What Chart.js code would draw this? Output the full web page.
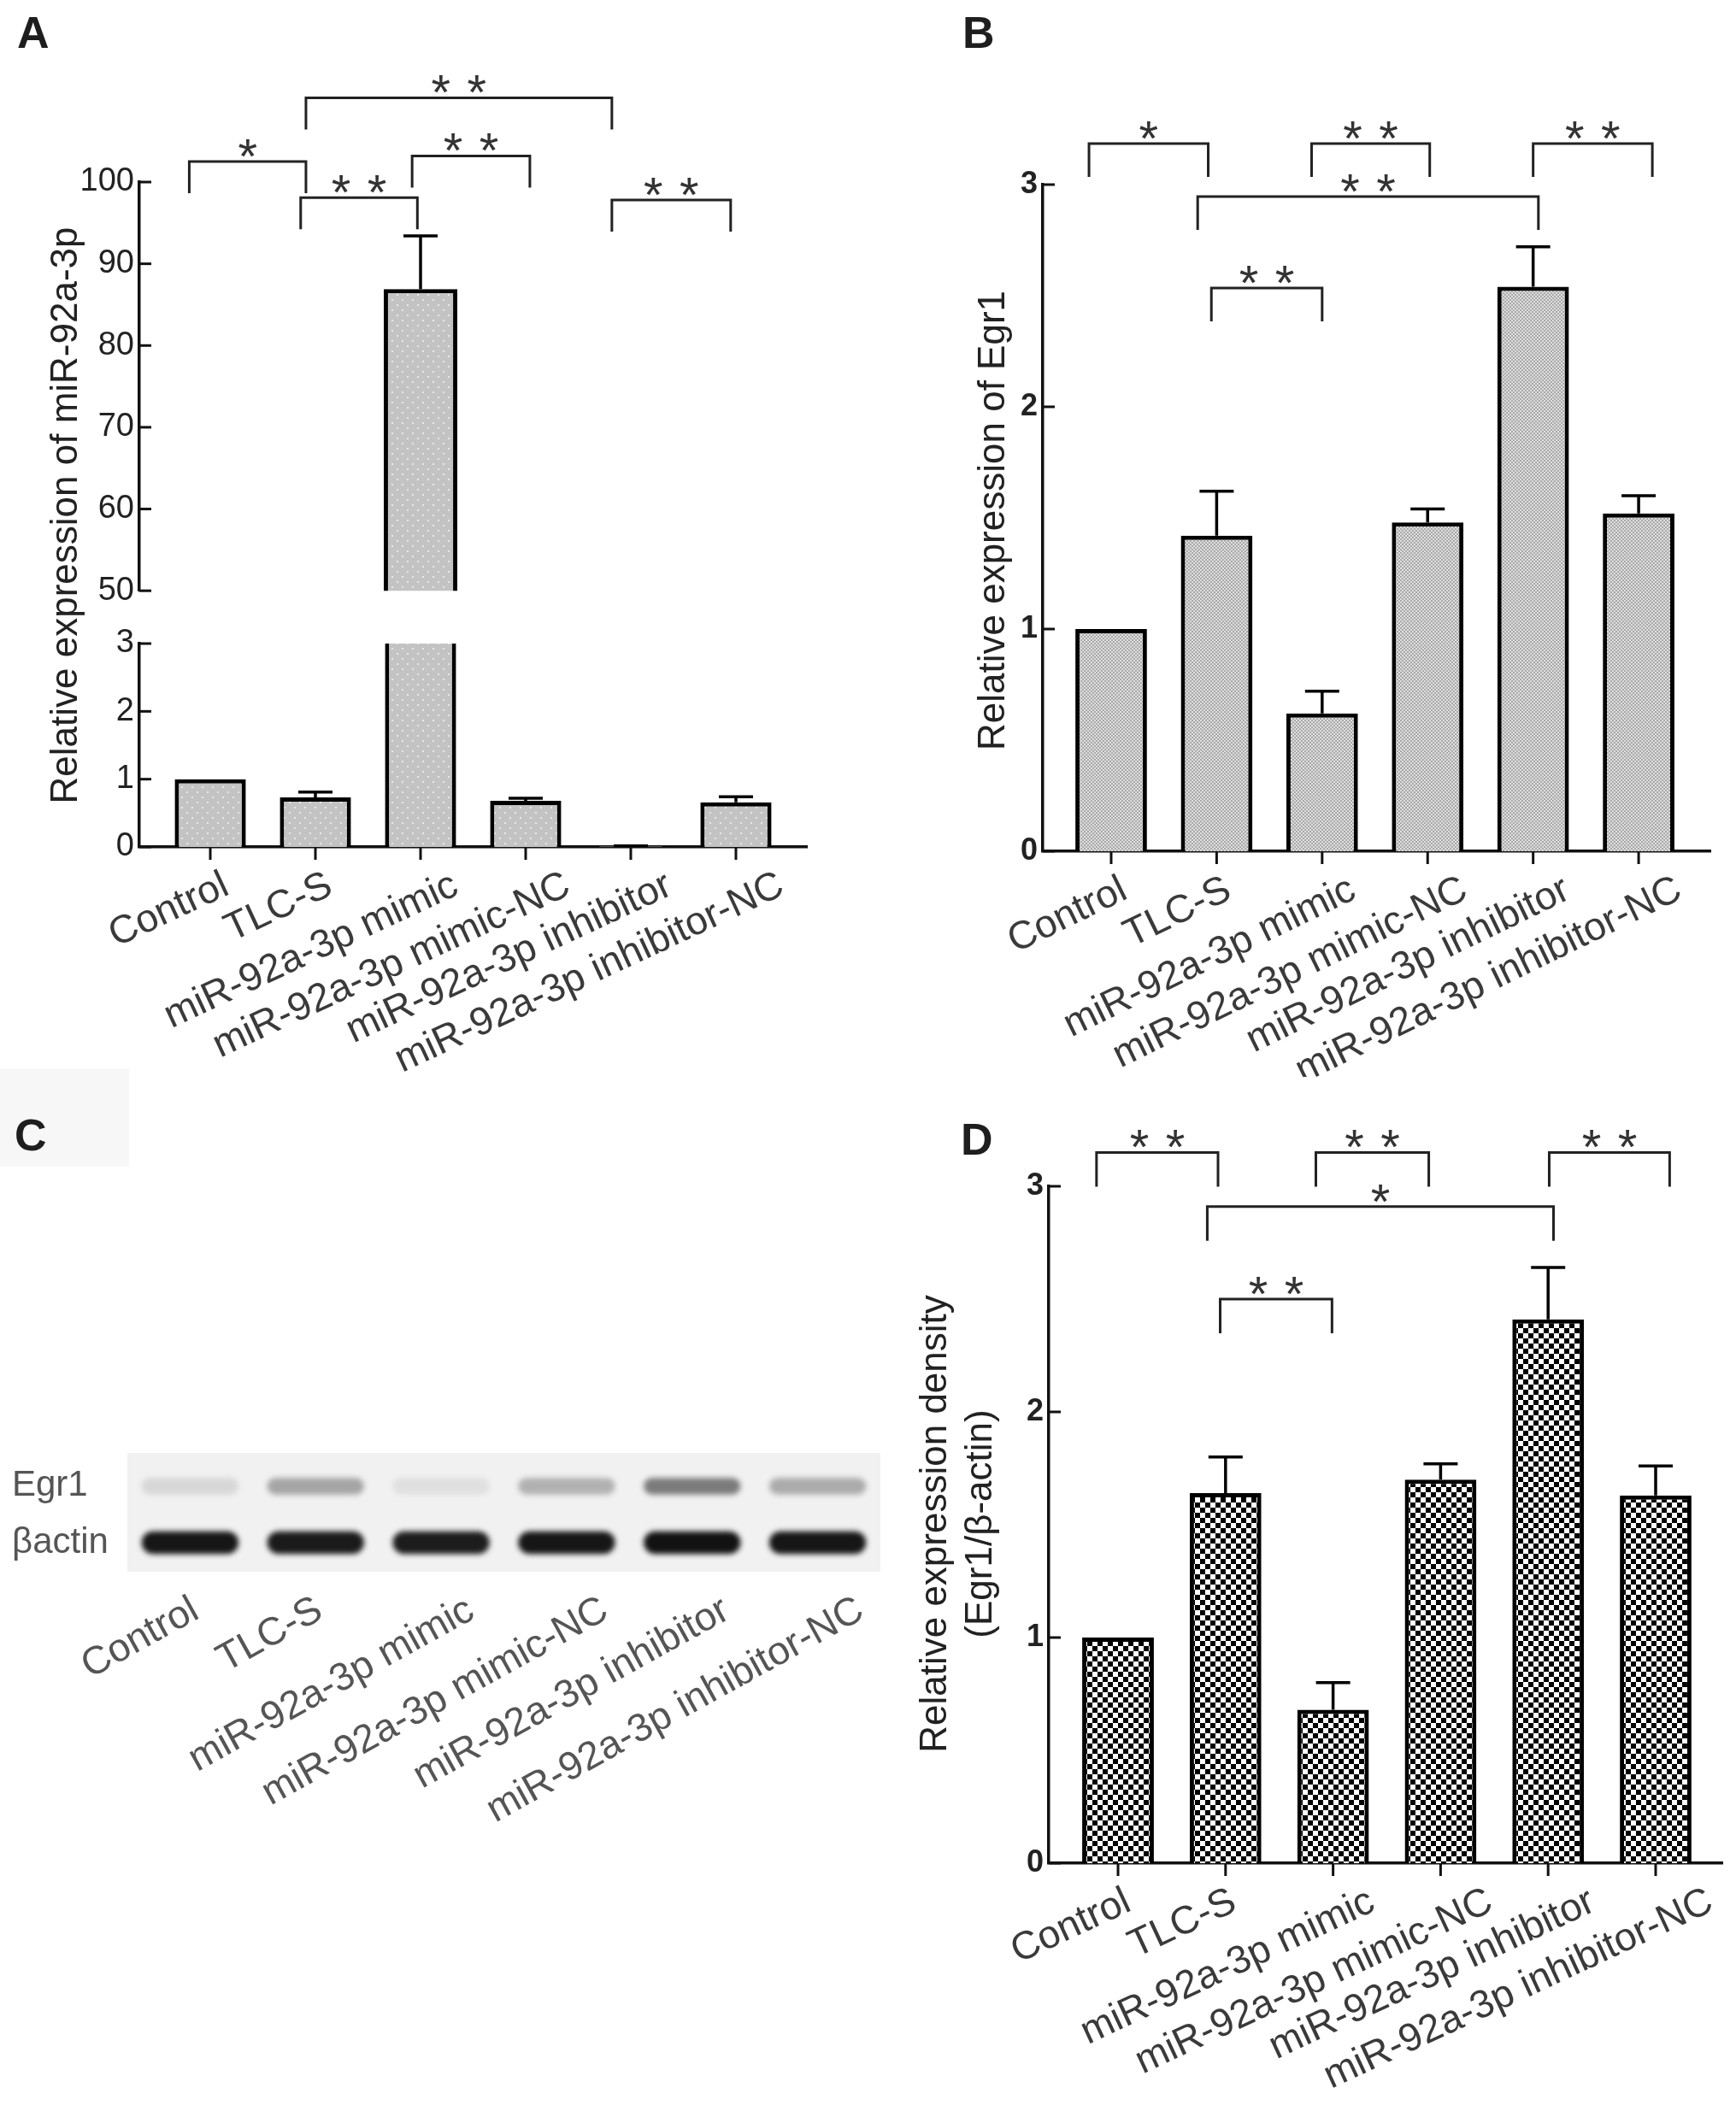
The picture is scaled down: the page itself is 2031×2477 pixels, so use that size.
<!DOCTYPE html>
<html lang="en">
<head>
  <meta charset="UTF-8">
  <title>miR-92a-3p / Egr1 expression</title>
  <script src="https://cdn.jsdelivr.net/npm/chart.js@4.4.1/dist/chart.umd.min.js"></script>
  <style>
    body {
      margin: 0;
      width: 2031px;
      height: 2477px;
      position: relative;
      overflow: hidden;
      background: #ffffff;
      font-family: 'Liberation Sans', Arial, sans-serif;
    }
    .box { position: absolute; }
    .letter {
      position: absolute;
      font: bold 52px 'Liberation Sans', Arial, sans-serif;
      line-height: 52px;
      color: #1e1e1e;
    }
    .shade {
      position: absolute;
      left: 0; top: 1250px;
      width: 151px; height: 115px;
      background: #f7f7f7;
    }
  </style>
</head>
<body>
  <div class="shade"></div>
  <div class="letter" style="left:20px;top:12px">A</div>
  <div class="letter" style="left:1126px;top:12px">B</div>
  <div class="letter" style="left:17px;top:1302px">C</div>
  <div class="letter" style="left:1124px;top:1307px">D</div>

  <div class="box" style="left:0;top:0;width:1015px;height:1260px"><canvas id="mirLow"></canvas></div>
  <div class="box" style="left:0;top:0;width:1015px;height:720px;z-index:2"><canvas id="mirHigh"></canvas></div>
  <div class="box" style="left:1100px;top:100px;width:931px;height:1160px"><canvas id="egr"></canvas></div>
  <div class="box" style="left:0;top:1650px;width:1050px;height:560px"><canvas id="blot"></canvas></div>
  <div class="box" style="left:1050px;top:1290px;width:981px;height:1187px"><canvas id="dens"></canvas></div>

  <script>
    const categories = ['Control', 'TLC-S', 'miR-92a-3p mimic', 'miR-92a-3p mimic-NC',
      'miR-92a-3p inhibitor', 'miR-92a-3p inhibitor-NC'];

    // A - relative expression of miR-92a-3p (broken axis)
    const mirMean = [1.0, 0.73, 86.9, 0.68, 0.01, 0.66];
    const mirSd = [0, 0.08, 6.5, 0.04, 0.005, 0.08];
    const mirTicksLow = [0, 1, 2, 3];
    const mirTicksHigh = [50, 60, 70, 80, 90, 100];

    // B - relative expression of Egr1
    const egrMean = [1.0, 1.42, 0.62, 1.48, 2.54, 1.52];
    const egrSd = [0, 0.2, 0.1, 0.06, 0.18, 0.08];

    // C - western blot band intensity (0 = none, 1 = black)
    const blotEgr1 = [0.12, 0.36, 0.08, 0.30, 0.56, 0.33];
    const blotActin = [0.95, 0.93, 0.92, 0.95, 0.97, 0.95];
    const blotRows = ['Egr1', 'βactin'];

    // D - relative expression density (Egr1/beta-actin)
    const densMean = [1.0, 1.64, 0.68, 1.70, 2.41, 1.63];
    const densSd = [0, 0.16, 0.12, 0.07, 0.23, 0.13];
    const egrTicks = [0, 1, 2, 3];

    // significance brackets: [from, to (category index), height (axis units), stars]
    const mirSig = [
      [-0.2, 0.91, 102.5, '*'],
      [0.91, 3.82, 110.3, '**'],
      [0.86, 1.97, 98.1, '**'],
      [1.92, 3.04, 103.2, '**'],
      [3.82, 4.95, 97.8, '**']
    ];
    const egrSig = [
      [-0.21, 0.92, 3.185, '*'],
      [1.90, 3.02, 3.185, '**'],
      [4.0, 5.13, 3.185, '**'],
      [0.82, 4.05, 2.946, '**'],
      [0.95, 2.0, 2.535, '**']
    ];
    const densSig = [
      [-0.2, 0.93, 3.15, '**'],
      [1.84, 2.89, 3.15, '**'],
      [4.01, 5.13, 3.15, '**'],
      [0.83, 4.05, 2.91, '*'],
      [0.95, 1.99, 2.50, '**']
    ];

    const FONT = "'Liberation Sans', Arial, sans-serif";
    Chart.defaults.font.family = FONT;

    function makePattern(size, paint) {
      const c = document.createElement('canvas');
      c.width = c.height = size;
      const g = c.getContext('2d');
      paint(g);
      return g.createPattern(c, 'repeat');
    }
    const dotFill = makePattern(12, g => {
      g.fillStyle = '#c3c3c3'; g.fillRect(0, 0, 12, 12);
      g.fillStyle = '#e8e8e8'; g.fillRect(2, 2, 2, 2); g.fillRect(8, 8, 2, 2);
    });
    const meshFill = makePattern(4, g => {
      g.fillStyle = '#dedede'; g.fillRect(0, 0, 4, 4);
      g.fillStyle = '#a9a9a9'; g.fillRect(0, 0, 2, 2); g.fillRect(2, 2, 2, 2);
    });
    const checkFill = makePattern(12, g => {
      g.fillStyle = '#ffffff'; g.fillRect(0, 0, 12, 12);
      g.fillStyle = '#000000'; g.fillRect(0, 0, 6, 6); g.fillRect(6, 6, 6, 6);
    });

    // y ticks point into the plot, x ticks hang below the axis
    const axisTicks = {
      id: 'axisTicks',
      afterDraw(chart) {
        const { ctx, chartArea } = chart;
        const x = chart.scales.x, y = chart.scales.y;
        ctx.save();
        ctx.strokeStyle = '#111';
        ctx.lineWidth = 3;
        y.ticks.forEach(t => {
          const py = y.getPixelForValue(t.value);
          ctx.beginPath();
          ctx.moveTo(chartArea.left, py);
          ctx.lineTo(chartArea.left + 14, py);
          ctx.stroke();
        });
        if (x.options.display) {
          categories.forEach((c, i) => {
            const px = x.getPixelForValue(i);
            ctx.beginPath();
            ctx.moveTo(px, chartArea.bottom);
            ctx.lineTo(px, chartArea.bottom + 15);
            ctx.stroke();
          });
        }
        ctx.restore();
      }
    };

    function errorBars(mean, sd) {
      return {
        id: 'errorBars',
        afterDatasetsDraw(chart) {
          const { ctx, chartArea: a } = chart;
          const y = chart.scales.y;
          const meta = chart.getDatasetMeta(0);
          ctx.save();
          ctx.beginPath();
          ctx.rect(a.left, a.top - 2, a.right - a.left, a.bottom - a.top + 2);
          ctx.clip();
          ctx.strokeStyle = '#000';
          ctx.lineWidth = 3.5;
          meta.data.forEach((bar, i) => {
            if (!sd[i]) return;
            const base = y.getPixelForValue(mean[i]);
            const top = y.getPixelForValue(mean[i] + sd[i]);
            ctx.beginPath();
            ctx.moveTo(bar.x, base);
            ctx.lineTo(bar.x, top);
            ctx.moveTo(bar.x - 20, top);
            ctx.lineTo(bar.x + 20, top);
            ctx.stroke();
          });
          ctx.restore();
        }
      };
    }

    function sigBrackets(list, leg) {
      return {
        id: 'sigBrackets',
        afterDraw(chart) {
          const { ctx } = chart;
          const x = chart.scales.x, y = chart.scales.y;
          ctx.save();
          ctx.strokeStyle = '#222';
          ctx.lineWidth = 3;
          ctx.fillStyle = '#333';
          ctx.font = '58px ' + FONT;
          ctx.textAlign = 'center';
          ctx.textBaseline = 'alphabetic';
          list.forEach(([from, to, h, stars]) => {
            const x1 = x.getPixelForValue(from);
            const x2 = x.getPixelForValue(to);
            const py = y.getPixelForValue(h);
            ctx.beginPath();
            ctx.moveTo(x1, py + leg);
            ctx.lineTo(x1, py);
            ctx.lineTo(x2, py);
            ctx.lineTo(x2, py + leg);
            ctx.stroke();
            const mid = (x1 + x2) / 2;
            for (let k = 0; k < stars.length; k++) {
              ctx.fillText('*', mid + (k - (stars.length - 1) / 2) * 42, py + 14);
            }
          });
          ctx.restore();
        }
      };
    }

    function sideTitle(lines, baselines, cy) {
      return {
        id: 'sideTitle',
        afterDraw(chart) {
          const { ctx } = chart;
          ctx.save();
          ctx.fillStyle = '#222';
          ctx.font = '44px ' + FONT;
          ctx.textAlign = 'center';
          ctx.textBaseline = 'alphabetic';
          lines.forEach((line, i) => {
            ctx.save();
            ctx.translate(baselines[i], cy);
            ctx.rotate(-Math.PI / 2);
            ctx.fillText(line, 0, 0);
            ctx.restore();
          });
          ctx.restore();
        }
      };
    }

    function barSet(mean, fill, clip) {
      const ds = {
        data: mean.map((v, i) => ({ x: i, y: v })),
        backgroundColor: fill,
        borderColor: '#000',
        borderWidth: 5,
        barPercentage: 0.7,
        categoryPercentage: 1
      };
      if (clip) ds.clip = 0;
      return ds;
    }

    // category axis on a linear scale; the rotated labels slide a little
    // further right the longer they are, as in the original figure
    function catAxis(o) {
      return {
        type: 'linear', min: o.min, max: o.max, offset: false, display: o.show !== false,
        afterBuildTicks: s => {
          const ctx = s.ctx;
          ctx.save();
          ctx.font = o.size + 'px ' + FONT;
          const unit = s.width / (s.max - s.min) || 1;
          s.ticks = categories.map((c, i) => ({ value: i + o.slide * ctx.measureText(c).width / unit }));
          ctx.restore();
        },
        afterFit: s => {
          s.height = o.height;
          // labels may overhang; keep the plot area where it was set
          s.paddingLeft = 0;
          s.paddingRight = 0;
        },
        ticks: {
          autoSkip: false, minRotation: o.rot, maxRotation: o.rot, padding: 18,
          labelOffset: o.shift, color: o.color || '#3a3a3a', font: { size: o.size },
          callback: (v, i) => categories[i]
        },
        grid: { display: false, drawTicks: false },
        border: { display: o.border !== false, color: '#111', width: 3.5 }
      };
    }

    function valAxis(min, max, tickList, width, size, weight) {
      return {
        min: min, max: max,
        afterBuildTicks: s => { s.ticks = tickList.map(v => ({ value: v })); },
        afterFit: s => { s.width = width; },
        ticks: { padding: 6, color: '#222', font: { size: size, weight: weight } },
        grid: { display: false, drawTicks: false },
        border: { display: true, color: '#111', width: 3.5 }
      };
    }

    const base = {
      responsive: true,
      maintainAspectRatio: false,
      animation: false,
      plugins: { legend: { display: false }, tooltip: { enabled: false } }
    };

    // A lower segment (0 - 3)
    new Chart(document.getElementById('mirLow'), {
      type: 'bar',
      data: { datasets: [barSet(mirMean, dotFill, true)] },
      options: Object.assign({}, base, {
        layout: { padding: { left: 0, top: 753, right: 71, bottom: 0 } },
        scales: {
          x: catAxis({ min: -0.675, max: 5.675, height: 269, rot: 25, size: 46, slide: 0.1, shift: 4 }),
          y: valAxis(0, 3, mirTicksLow, 163, 38, 'normal')
        }
      }),
      plugins: [axisTicks, errorBars(mirMean, mirSd),
        sideTitle(['Relative expression of miR-92a-3p'], [90], 603)]
    });

    // A upper segment (50 - 100)
    new Chart(document.getElementById('mirHigh'), {
      type: 'bar',
      data: { datasets: [barSet(mirMean, dotFill, true)] },
      options: Object.assign({}, base, {
        layout: { padding: { left: 0, top: 213, right: 71, bottom: 7 } },
        scales: {
          x: catAxis({ min: -0.675, max: 5.675, height: 0, rot: 25, size: 46, slide: 0, shift: 0, show: false }),
          y: valAxis(50, 100, mirTicksHigh, 163, 38, 'normal')
        }
      }),
      plugins: [axisTicks, errorBars(mirMean, mirSd), sigBrackets(mirSig, 37)]
    });

    // B
    new Chart(document.getElementById('egr'), {
      type: 'bar',
      data: { datasets: [barSet(egrMean, meshFill, false)] },
      options: Object.assign({}, base, {
        layout: { padding: { left: 0, top: 116, right: 30, bottom: 0 } },
        scales: {
          x: catAxis({ min: -0.648, max: 5.68, height: 264, rot: 26, size: 46, slide: 0.092, shift: 2 }),
          y: valAxis(0, 3, egrTicks, 120, 36, 'bold')
        }
      }),
      plugins: [axisTicks, errorBars(egrMean, egrSd), sigBrackets(egrSig, 39),
        sideTitle(['Relative expression of Egr1'], [75], 509)]
    });

    // C - blot
    const blotLook = {
      id: 'blotLook',
      beforeDatasetsDraw(chart) {
        const { ctx, chartArea: a } = chart;
        ctx.save();
        ctx.fillStyle = '#f1f1f1';
        ctx.fillRect(a.left, a.top, a.right - a.left, a.bottom - a.top);
        ctx.filter = 'blur(3px)';
      },
      afterDatasetsDraw(chart) { chart.ctx.restore(); }
    };
    new Chart(document.getElementById('blot'), {
      type: 'bar',
      data: {
        datasets: [
          {
            data: blotEgr1.map((v, i) => ({ x: i, y: [0.65, 0.79] })),
            backgroundColor: blotEgr1.map(v => 'rgba(30,30,30,' + v + ')'),
            borderWidth: 0, borderRadius: 10, borderSkipped: false,
            barPercentage: 0.8, categoryPercentage: 1, grouped: false
          },
          {
            data: blotActin.map((v, i) => ({ x: i, y: [0.15, 0.34] })),
            backgroundColor: blotActin.map(v => 'rgba(10,10,10,' + v + ')'),
            borderWidth: 0, borderRadius: 14, borderSkipped: false,
            barPercentage: 0.8, categoryPercentage: 1, grouped: false
          }
        ]
      },
      options: Object.assign({}, base, {
        layout: { padding: { left: 14, top: 50, right: 20, bottom: 0 } },
        scales: {
          x: catAxis({ min: -0.5, max: 5.5, height: 371, rot: 29, size: 46, slide: 0.126, shift: -12,
            color: '#555', border: false }),
          y: {
            min: 0, max: 1,
            afterBuildTicks: s => { s.ticks = [{ value: 0.72 }, { value: 0.245 }]; },
            afterFit: s => { s.width = 135; },
            ticks: { crossAlign: 'far', color: '#555', font: { size: 42 }, callback: (v, i) => blotRows[i] },
            grid: { display: false, drawTicks: false },
            border: { display: false }
          }
        }
      }),
      plugins: [blotLook]
    });

    // D
    new Chart(document.getElementById('dens'), {
      type: 'bar',
      data: { datasets: [barSet(densMean, checkFill, false)] },
      options: Object.assign({}, base, {
        layout: { padding: { left: 0, top: 98, right: 16, bottom: 0 } },
        scales: {
          x: catAxis({ min: -0.644, max: 5.62, height: 297, rot: 25, size: 46, slide: 0.15, shift: -10 }),
          y: valAxis(0, 3, egrTicks, 177, 36, 'bold')
        }
      }),
      plugins: [axisTicks, errorBars(densMean, densSd), sigBrackets(densSig, 40),
        sideTitle(['Relative expression density', '(Egr1/β-actin)'], [57, 110], 493)]
    });
  </script>
</body>
</html>
